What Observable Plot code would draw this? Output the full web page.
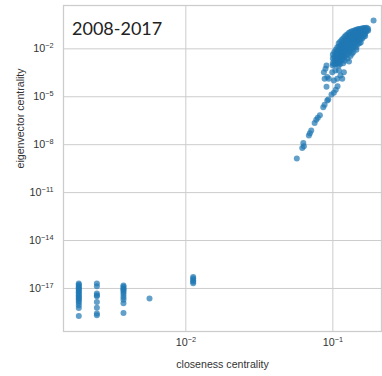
<!DOCTYPE html>
<html><head><meta charset="utf-8">
<script src="https://cdn.jsdelivr.net/npm/d3@7"></script>
<script src="https://cdn.jsdelivr.net/npm/@observablehq/plot@0.6"></script>
<style>
html,body{margin:0;padding:0;background:#fff;}
svg{display:block;}
</style></head><body><div id="chart"></div>
<script>
// ---- data (values stored as log10 exponents) ----
const periodLabel = "2008-2017";
const xLabel = "closeness centrality";
const yLabel = "eigenvector centrality";
const xTickExps = [-2, -1];
const yTickExps = [-17, -14, -11, -8, -5, -2];

// isolated nodes: columns of equal closeness
const isolatedClosenessLog = [-2.728, -2.605, -2.424, -2.247, -1.95];
const isolatedEigenLog = [
  [-16.69, -16.76, -16.84, -16.92, -17.0, -17.08, -17.16, -17.24, -17.33, -17.42, -17.52, -17.6, -17.68, -17.78, -17.9, -18.05, -18.22, -18.73],
  [-16.69, -16.86, -17.31, -17.42, -17.48, -17.84, -18.21, -18.56, -18.67],
  [-16.81, -16.9, -16.98, -17.06, -17.15, -17.25, -17.4, -17.55, -17.7, -17.92, -18.54],
  [-17.63],
  [-16.28, -16.38, -16.48, -16.58, -16.68]
];

// sparse tail of the connected component
const tailClosenessLog = [-1.245, -1.201, -1.197, -1.208, -1.163, -1.156, -1.147, -1.124, -1.113, -1.102, -1.088, -1.065, -1.056, -1.038, -1.031, -1.009, -0.993, -0.980, -0.968, -1.043,
  -1.05, -1.061, -1.056, -1.038, -1.004, -1.027, -0.993, -0.970, -0.948, -0.936, -0.982, -0.959, -1.043, -0.925];
const tailEigenLog = [-8.86, -7.90, -8.10, -8.20, -7.42, -7.28, -7.11, -6.65, -6.44, -6.31, -6.15, -5.65, -5.50, -5.23, -5.17, -4.86, -4.75, -4.56, -4.34, -4.38,
  -3.25, -3.46, -3.88, -3.77, -3.46, -3.88, -3.98, -3.88, -3.67, -3.88, -3.36, -3.36, -3.04, -3.46];

// dense core: columns of closeness with their eigenvector values
const coreClosenessLog = [-1.00, -0.99, -0.98, -0.97, -0.96, -0.95, -0.94, -0.93, -0.92, -0.91, -0.90, -0.89, -0.88, -0.87, -0.86, -0.85, -0.84, -0.83, -0.82, -0.81, -0.80, -0.79, -0.78, -0.77, -0.76, -0.723];
const coreEigenLog = [
  [-2.35, -2.6, -2.9, -3.05],
  [-2.2, -2.5, -2.75, -2.95],
  [-2.05, -2.3, -2.55, -2.8, -3.0],
  [-1.9, -2.15, -2.4, -2.65, -2.9],
  [-1.65, -1.85, -2.1, -2.35, -2.6, -2.85, -3.05],
  [-1.55, -1.8, -2.0, -2.25, -2.5, -2.75, -2.95],
  [-1.45, -1.7, -1.95, -2.2, -2.45, -2.7],
  [-1.35, -1.6, -1.85, -2.1, -2.35, -2.6, -2.9],
  [-1.25, -1.5, -1.75, -2.0, -2.25, -2.5, -2.75],
  [-1.15, -1.4, -1.65, -1.9, -2.15, -2.4],
  [-1.08, -1.3, -1.55, -1.8, -2.05, -2.3, -2.6],
  [-1.0, -1.2, -1.45, -1.7, -1.95, -2.2, -2.8],
  [-0.95, -1.15, -1.4, -1.6, -1.85, -2.1, -2.45],
  [-0.9, -1.1, -1.3, -1.5, -1.75, -2.0, -2.3],
  [-0.88, -1.05, -1.25, -1.45, -1.65, -1.9, -2.2],
  [-0.84, -1.0, -1.2, -1.4, -1.6, -1.85],
  [-0.8, -0.95, -1.15, -1.35, -1.55, -1.9, -2.05],
  [-0.78, -0.92, -1.1, -1.3, -1.5, -1.7],
  [-0.76, -0.9, -1.05, -1.25, -1.45, -1.65],
  [-0.74, -0.88, -1.0, -1.2, -1.4, -1.6],
  [-0.72, -0.85, -1.0, -1.15, -1.35],
  [-0.7, -0.82, -0.95, -1.1, -1.25],
  [-0.7, -0.8, -0.92, -1.05, -1.2],
  [-0.68, -0.8, -0.9],
  [-0.75, -0.85],
  [-0.23]
];

// ---- build table ----
const points = [];
isolatedClosenessLog.forEach((cx, i) => isolatedEigenLog[i].forEach(ey => points.push({c: 10 ** cx, e: 10 ** ey})));
tailClosenessLog.forEach((cx, i) => points.push({c: 10 ** cx, e: 10 ** tailEigenLog[i]}));
coreClosenessLog.forEach((cx, i) => coreEigenLog[i].forEach(ey => points.push({c: 10 ** cx, e: 10 ** ey})));

const xTicks = xTickExps.map(k => 10 ** k);
const yTicks = yTickExps.map(k => 10 ** k);
const fmt = d => "10^" + Math.round(Math.log10(d));

const font = "'Liberation Sans', Arial, sans-serif";
const chart = Plot.plot({
  width: 382,
  height: 376,
  marginLeft: 63,
  marginRight: 1,
  marginTop: 5,
  marginBottom: 45,
  style: {fontFamily: font, background: "#fff", color: "#333"},
  x: {type: "log", domain: [10 ** -2.832, 10 ** -0.669]},
  y: {type: "log", domain: [10 ** -19.694, 10 ** 0.713]},
  marks: [
    Plot.gridX(xTicks, {stroke: "#cccccc", strokeOpacity: 1, strokeWidth: 1}),
    Plot.gridY(yTicks, {stroke: "#cccccc", strokeOpacity: 1, strokeWidth: 1}),
    Plot.frame({stroke: "#cccccc", strokeWidth: 1.25}),
    Plot.axisX(xTicks, {tickSize: 0, tickPadding: 7, tickFormat: fmt, fontSize: 10.8, label: null, fill: "#333"}),
    Plot.axisY(yTicks, {tickSize: 0, tickPadding: 10, tickFormat: fmt, fontSize: 10.8, label: null, fill: "#333"}),
    Plot.dot(points, {x: "c", y: "e", r: 3, fill: "#1f77b4", fillOpacity: 0.7, stroke: "none"}),
    Plot.text([xLabel], {frameAnchor: "bottom", dy: 36, lineAnchor: "bottom", fontSize: 10.6, fill: "#333"}),
    Plot.text([yLabel], {frameAnchor: "left", dx: -43, rotate: -90, lineAnchor: "middle", fontSize: 10.6, fill: "#333"}),
    Plot.text([periodLabel], {frameAnchor: "top-left", dx: 8.5, dy: 29.3, lineAnchor: "bottom", textAnchor: "start", fontSize: 18, fontFamily: "Lato, 'Open Sans', sans-serif", fill: "#222"})
  ]
});

// render exponents as raised tspans
d3.select(chart).selectAll("text").each(function() {
  const t = this.textContent;
  if (/^10\^-?\d+$/.test(t)) {
    const exp = t.split("^")[1].replace("-", "\u2212");
    const sel = d3.select(this);
    sel.text("10");
    sel.append("tspan").attr("dy", "-0.55em").attr("font-size", "0.68em").text(exp);
  }
});
document.getElementById("chart").append(chart);
</script>
</body></html>
